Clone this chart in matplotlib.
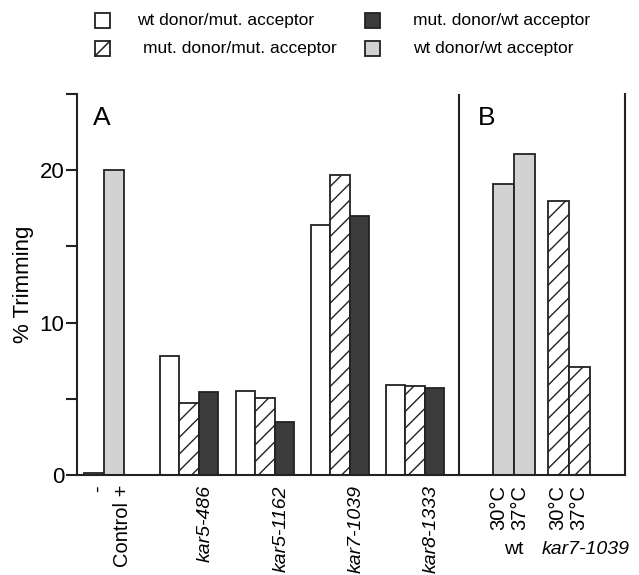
import matplotlib
matplotlib.use("Agg")
import matplotlib.pyplot as plt
from matplotlib.patches import Rectangle
from matplotlib.lines import Line2D

plt.rcParams['font.family'] = ['Liberation Sans', 'DejaVu Sans']
plt.rcParams['hatch.linewidth'] = 1.0

# ---- data ----
control_vals = [0.15, 20.0]          # "-" (wt donor/mut. acceptor style), "+" (wt/wt)
groups_a = ["kar5-486", "kar5-1162", "kar7-1039", "kar8-1333"]
wt_mut = [7.8, 5.5, 16.4, 5.9]
mut_mut = [4.7, 5.05, 19.7, 5.85]
mut_wt = [5.45, 3.5, 17.0, 5.7]

temps = ["30°C", "37°C"]
b_wt = [19.1, 21.05]
b_kar7 = [18.0, 7.1]

# ---- styles ----
EDGE = "#222222"
DARK = "#3c3c3c"
GREY = "#d2d2d2"
styles = {
    "wt_mut": dict(facecolor="white", edgecolor=EDGE, hatch=None),
    "mut_mut": dict(facecolor="white", edgecolor=EDGE, hatch="//"),
    "mut_wt": dict(facecolor=DARK, edgecolor=EDGE, hatch=None),
    "wt_wt": dict(facecolor=GREY, edgecolor=EDGE, hatch=None),
}

# layout (x in pixel-like units along the axis)
W = 19.2
ctrl_x = [16.5, 37.0]
centers_a = [112, 188, 263, 338]
sep_x = 382
wt_x = [426, 447]
k7_x = [481.5, 502.5]
WB = 21

fig = plt.figure(figsize=(6.39, 5.75), dpi=100)
ax = fig.add_axes([77/639, 1-475/575, 548/639, (475-94)/575])

ax.bar(ctrl_x[0], control_vals[0], W, linewidth=1.3, **styles["wt_mut"])
ax.bar(ctrl_x[1], control_vals[1], W, linewidth=1.3, **styles["wt_wt"])
for i, c in enumerate(centers_a):
    ax.bar(c - W, wt_mut[i], W, linewidth=1.3, **styles["wt_mut"])
    ax.bar(c, mut_mut[i], W, linewidth=1.3, **styles["mut_mut"])
    ax.bar(c + W, mut_wt[i], W, linewidth=1.3, **styles["mut_wt"])
ax.bar(wt_x, b_wt, WB, linewidth=1.3, **styles["wt_wt"])
ax.bar(k7_x, b_kar7, WB, linewidth=1.3, **styles["mut_mut"])

ax.axvline(sep_x, color=EDGE, lw=1.5)
ax.set_xlim(0, 548)
ax.set_ylim(0, 25)
ax.spines['top'].set_visible(False)
for s in ['left', 'bottom', 'right']:
    ax.spines[s].set_linewidth(1.5)
    ax.spines[s].set_color(EDGE)

ax.set_xticks([])
ax.set_yticks([0, 10, 20])
ax.set_yticks([5, 15, 25], minor=True)
ax.tick_params(axis='y', which='both', direction='out', length=8, width=1.5,
               labelsize=16, pad=1, color=EDGE)
ax.set_ylabel("% Trimming", fontsize=16, labelpad=4)

ax.text(16, 24.2, "A", fontsize=19, va='top', ha='left')
ax.text(sep_x + 19, 24.2, "B", fontsize=19, va='top', ha='left')

# x labels
def xlab(x, s, style='normal', dx=0, size=14.5):
    ax.annotate(s, xy=(x, 0), xycoords=('data', 'axes fraction'),
                xytext=(dx, -10), textcoords='offset pixels',
                rotation=90, ha='center', va='top', fontsize=size,
                fontstyle=style)

xlab(ctrl_x[0], "-", dx=4)
xlab(ctrl_x[1], "Control +", dx=8)
for c, g in zip(centers_a, groups_a):
    xlab(c, g, style='italic', dx=16, size=14)
for x, t in zip(wt_x, temps):
    xlab(x, t, dx=-4)
for x, t in zip(k7_x, temps):
    xlab(x, t, dx=-1)

ax.annotate("wt", xy=(sum(wt_x)/2, 0), xycoords=('data', 'axes fraction'),
            xytext=(0, -74), textcoords='offset pixels', ha='center', va='center',
            fontsize=14)
ax.annotate("kar7-1039", xy=(sum(k7_x)/2, 0), xycoords=('data', 'axes fraction'),
            xytext=(17, -74), textcoords='offset pixels', ha='center', va='center',
            fontsize=14, fontstyle='italic')

# ---- legend ----
legend_items = [
    ("wt_mut", "wt donor/mut. acceptor", 95, 137, 20),
    ("mut_mut", "mut. donor/mut. acceptor", 95, 143, 48),
    ("mut_wt", "mut. donor/wt acceptor", 365, 413, 20),
    ("wt_wt", "wt donor/wt acceptor", 365, 413, 48),
]
for key, label, bx, tx, cy in legend_items:
    st = styles[key]
    x0, y0 = bx/639, 1-(cy+8)/575
    w, h = 15/639, 15/575
    fig.add_artist(Rectangle((x0, y0), w, h, transform=fig.transFigure,
                             facecolor=st["facecolor"], edgecolor=EDGE, linewidth=1.3))
    if st["hatch"]:
        fig.add_artist(Line2D([x0, x0 + w], [y0, y0 + h], transform=fig.transFigure,
                              color=EDGE, lw=1.1))
    fig.text(tx/639, 1-cy/575, label, fontsize=12.5, va='center', ha='left')

fig.savefig("out.png", dpi=100)
